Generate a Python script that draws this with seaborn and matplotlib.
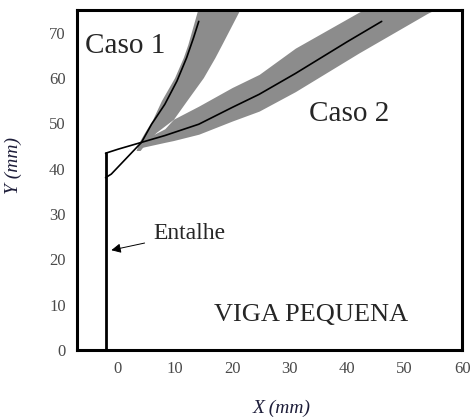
import numpy as np
import pandas as pd
import matplotlib
matplotlib.use("Agg")
import matplotlib.pyplot as plt
from matplotlib.ticker import MultipleLocator
import seaborn as sns

# notch (entalhe)
notch_x = [-2.0, -2.0]
notch_y = [0.0, 43.4]

# caso 1 mean crack path and scatter band (x as function of y)
caso1_x = [-2.0, -1.0, 4.25, 6.0, 8.3, 10.4, 12.1, 13.3, 14.2]
caso1_y = [38.0, 38.8, 45.8, 49.8, 54.2, 59.3, 64.5, 68.9, 72.5]
band1_y = [44.0, 46.0, 48.0, 50.9, 55.0, 60.1, 64.5, 67.4, 75.0]
band1_xl = [3.3, 3.9, 4.8, 6.2, 7.7, 10.0, 11.5, 12.3, 14.0]
band1_xr = [4.0, 5.2, 6.8, 9.8, 12.1, 15.0, 17.0, 18.2, 21.3]

# caso 2 mean crack path and scatter band (y as function of x)
caso2_x = [-2.0, 0.2, 4.25, 8.3, 14.2, 20.0, 24.7, 31.0, 40.0, 46.0]
caso2_y = [43.4, 44.3, 45.8, 47.3, 49.8, 53.5, 56.4, 61.0, 68.0, 72.5]
band2_x = [4.0, 8.3, 9.8, 14.2, 20.0, 24.7, 31.0, 42.0, 54.0, 60.0]
band2_lo = [44.6, 45.8, 46.2, 47.6, 50.5, 52.7, 57.0, 65.5, 74.3, 78.0]
band2_hi = [46.0, 48.8, 50.9, 53.8, 57.9, 60.8, 66.6, 74.5, 82.0, 86.0]

sns.set_style("white")
plt.rcParams["font.family"] = ["Liberation Serif", "DejaVu Serif"]

fig = plt.figure(figsize=(4.77, 4.19), dpi=100)
ax = fig.add_axes([0.161, 0.165, 0.808, 0.811])

band = "#8c8c8c"
ax.fill_betweenx(band1_y, band1_xl, band1_xr, color=band, lw=0)
ax.fill_between(band2_x, band2_lo, band2_hi, color=band, lw=0)

df1 = pd.DataFrame({"x": caso1_x, "y": caso1_y})
df2 = pd.DataFrame({"x": caso2_x, "y": caso2_y})
sns.lineplot(data=df1, x="x", y="y", sort=False, estimator=None, color="black",
             lw=1.2, ax=ax)
sns.lineplot(data=df2, x="x", y="y", sort=False, estimator=None, color="black",
             lw=1.2, ax=ax)
ax.plot(notch_x, notch_y, color="black", lw=2.0)

ax.set_xlim(-7, 60)
ax.set_ylim(0, 75)
ax.xaxis.set_major_locator(MultipleLocator(10))
ax.yaxis.set_major_locator(MultipleLocator(10))
ax.xaxis.set_minor_locator(MultipleLocator(2))
ax.yaxis.set_minor_locator(MultipleLocator(2))
ax.tick_params(which="major", direction="in", length=4, width=0.8,
               labelsize=12, labelcolor="#4a4a4a", pad=8)
ax.tick_params(which="minor", direction="in", length=2, width=0.6)
for s in ax.spines.values():
    s.set_linewidth(2.2)
    s.set_color("black")

ax.set_xlabel("X (mm)", fontsize=14, style="italic", color="#1e1e3a")
ax.set_ylabel("Y (mm)", fontsize=14, style="italic", color="#1e1e3a")
ax.xaxis.set_label_coords(0.532, -0.147)
ax.yaxis.set_label_coords(-0.143, 0.544)

ax.text(-5.6, 67, "Caso 1", fontsize=21, ha="left", va="center")
ax.text(33.4, 52, "Caso 2", fontsize=21, ha="left", va="center")
ax.text(16.8, 7.7, "VIGA PEQUENA", fontsize=19, ha="left", va="center")
ax.annotate("Entalhe", xy=(-1.0, 22), xytext=(6.3, 25.7), fontsize=17,
            ha="left", va="center",
            arrowprops=dict(arrowstyle="-|>", color="black", lw=0.7,
                            mutation_scale=14, shrinkA=4, shrinkB=0))

fig.savefig("out.png", dpi=100)
